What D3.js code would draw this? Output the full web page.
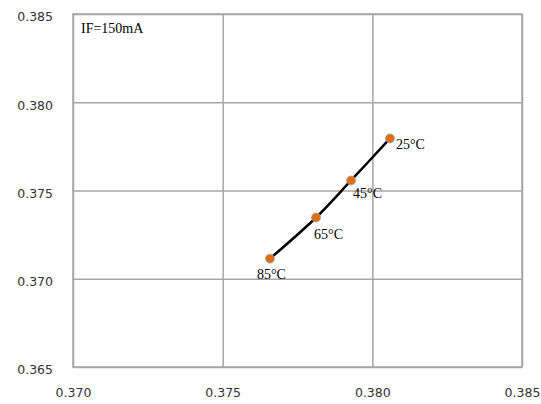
<!DOCTYPE html>
<html>
<head>
<meta charset="utf-8">
<script src="https://cdn.jsdelivr.net/npm/d3@7"></script>
<style>
  html, body { margin: 0; padding: 0; background: #fff; overflow: hidden; }
  svg { display: block; }
</style>
</head>
<body>
<svg></svg>
<script>
// chromaticity points at IF=150mA
const temps = ["25°C", "45°C", "65°C", "85°C"];
const xVals = [0.38059, 0.37929, 0.37812, 0.37658];
const yVals = [0.37795, 0.37557, 0.37347, 0.37114];
const xTicks = [0.370, 0.375, 0.380, 0.385];
const yTicks = [0.365, 0.370, 0.375, 0.380, 0.385];

const w = 541, h = 404;
const margin = { top: 14, bottom: 37, left: 73, right: 19 };
const innerWidth = w - margin.left - margin.right;
const innerHeight = h - margin.top - margin.bottom;

const svg = d3.select("svg").attr("width", w).attr("height", h);
const g = svg.append("g").attr("transform", `translate(${margin.left},${margin.top})`);

const xScale = d3.scaleLinear().domain([0.370, 0.385]).range([0, innerWidth]);
const yScale = d3.scaleLinear().domain([0.365, 0.385]).range([innerHeight, 0]);

// gridlines + tick labels
g.append("g")
  .call(d3.axisLeft(yScale).tickValues(yTicks).tickSize(-innerWidth).tickFormat(d3.format(".3f")).tickPadding(20))
  .call(a => a.select(".domain").remove())
  .call(a => a.selectAll("line").attr("stroke", "#a6a6a6").attr("stroke-width", 1.5))
  .call(a => a.selectAll("text").attr("dy", "0.55em").attr("font-family", "DejaVu Sans").attr("font-size", 12.5).attr("fill", "#333"));

g.append("g")
  .attr("transform", `translate(0,${innerHeight})`)
  .call(d3.axisBottom(xScale).tickValues(xTicks).tickSize(-innerHeight).tickFormat(d3.format(".3f")).tickPadding(21))
  .call(a => a.select(".domain").remove())
  .call(a => a.selectAll("line").attr("stroke", "#a6a6a6").attr("stroke-width", 1.5))
  .call(a => a.selectAll("text").attr("font-family", "DejaVu Sans").attr("font-size", 12.5).attr("fill", "#333"));

g.append("rect")
  .attr("width", innerWidth).attr("height", innerHeight)
  .attr("fill", "none").attr("stroke", "#a6a6a6").attr("stroke-width", 1.5);

const pts = temps.map((t, i) => ({ t: t, x: xVals[i], y: yVals[i] }));

const line = d3.line()
  .x(d => xScale(d.x))
  .y(d => yScale(d.y))
  .curve(d3.curveCatmullRom);

g.append("path")
  .datum(pts)
  .attr("d", line)
  .attr("fill", "none")
  .attr("stroke", "#000")
  .attr("stroke-width", 2.5);

g.selectAll("circle")
  .data(pts)
  .enter()
  .append("circle")
  .attr("cx", d => xScale(d.x))
  .attr("cy", d => yScale(d.y))
  .attr("r", 4.5)
  .attr("fill", "#e36c0a")
  .attr("stroke", "#8ea9cf")
  .attr("stroke-width", 0.8);

// label offsets relative to each point
const labelOff = [[6, 11], [2, 18], [-2, 21], [-13, 20]];
g.selectAll(".lbl")
  .data(pts)
  .enter()
  .append("text")
  .attr("class", "lbl")
  .attr("x", (d, i) => xScale(d.x) + labelOff[i][0])
  .attr("y", (d, i) => yScale(d.y) + labelOff[i][1])
  .attr("font-family", "Liberation Serif")
  .attr("font-size", 14)
  .attr("fill", "#000")
  .text(d => d.t);

g.append("text")
  .attr("x", 8)
  .attr("y", 19)
  .attr("font-family", "Liberation Serif")
  .attr("font-size", 14)
  .attr("fill", "#000")
  .text("IF=150mA");
</script>
</body>
</html>
